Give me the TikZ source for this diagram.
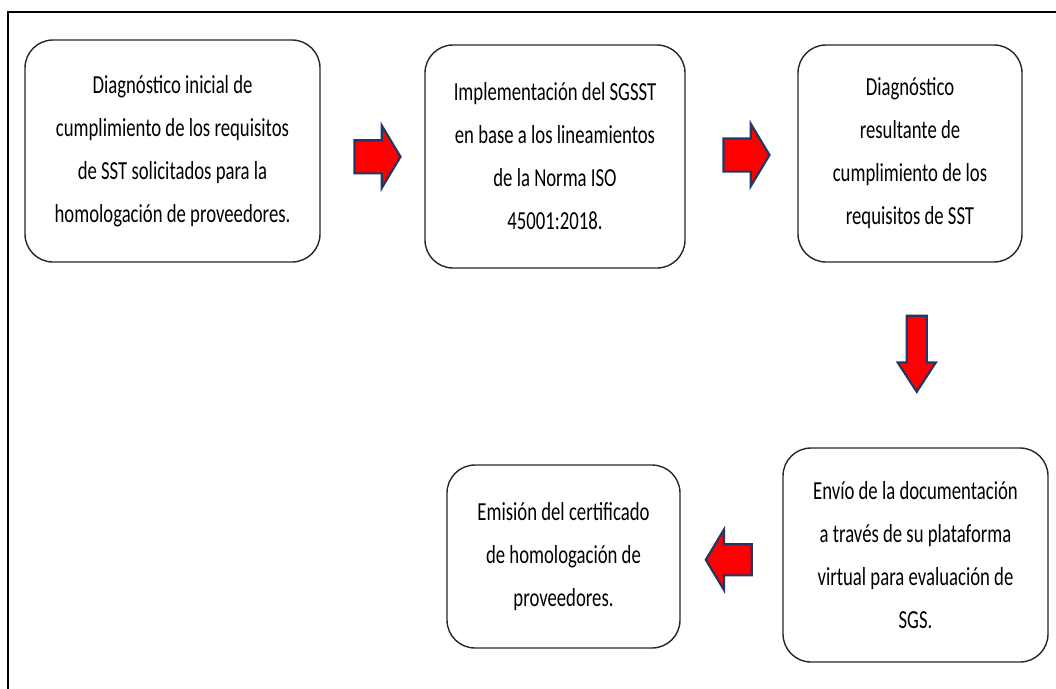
\documentclass[tikz,border=0pt]{standalone}
\usepackage{fontspec}
\setmainfont[FakeStretch=0.72]{Carlito}
\usepackage{xcolor}
\usepackage{tikz}
\usetikzlibrary{shapes.arrows, calc}

\definecolor{arrowred}{RGB}{255,0,0}
\definecolor{arrowblue}{HTML}{1F3864}

\tikzset{
    stepbox/.style={draw=black!85, line width=1.4pt, rounded corners=28pt, align=center,
        inner sep=0pt, font=\fontsize{26}{43}\selectfont},
    blockarr/.style={single arrow, draw=arrowblue, fill=arrowred, line width=2.2pt,
        inner xsep=0pt, inner ysep=15.5pt, outer sep=0pt, text height=0pt, text depth=0pt,
        single arrow head extend=14.5pt, single arrow tip angle=118}
}

\begin{document}
\begin{tikzpicture}[x=1pt, y=-1pt]
    \useasboundingbox (0,0) rectangle (1056,688);
    % Frame
    \draw[line width=2.5pt] (8,12) rectangle (1080,710);

    % Top row
    \node[stepbox, minimum width=295pt, minimum height=222pt] (diag) at (172.5,151)
        {Diagnóstico inicial de\\cumplimiento de los requisitos\\de SST solicitados para la\\homologación de proveedores.};
    \node[stepbox, minimum width=260pt, minimum height=223pt] (impl) at (555,156.5)
        {Implementación del SGSST\\en base a los lineamientos\\de la Norma ISO\\45001:2018.};
    \node[stepbox, minimum width=224pt, minimum height=217pt] (result) at (910,153.5)
        {Diagnóstico\\resultante de\\cumplimiento de los\\requisitos de SST};

    % Bottom row
    \node[stepbox, minimum width=265pt, minimum height=214pt] (envio) at (915.5,555)
        {Envío de la documentación\\a través de su plataforma\\virtual para evaluación de\\SGS.};
    \node[stepbox, minimum width=233pt, minimum height=183pt] (emision) at (563.5,556.5)
        {Emisión del certificado\\de homologación de\\proveedores.};

    % Block arrows
    \node[blockarr, minimum height=46pt] (a1)
        at ($(diag.east)!0.5!(impl.west)+(0,3)$) {};
    \node[blockarr, minimum height=46pt] (a2)
        at ($(impl.east)!0.5!(result.west)$) {};
    \node[blockarr, minimum height=76pt, shape border rotate=270, inner xsep=9pt, inner ysep=0pt,
        single arrow head extend=9pt, single arrow tip angle=66] (a3)
        at ($(result.south)!0.5!(envio.north)+(4,-9)$) {};
    \node[blockarr, minimum height=46pt, shape border rotate=180, inner ysep=14.5pt] (a4)
        at ($(emision.east)!0.5!(envio.west)+(2,4)$) {};
\end{tikzpicture}
\end{document}
